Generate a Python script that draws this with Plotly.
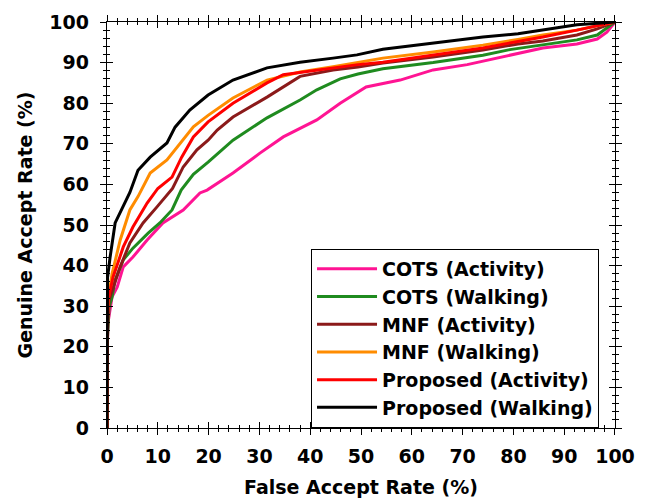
import plotly.graph_objects as go

series_names = ["COTS (Activity)", "COTS (Walking)", "MNF (Activity)",
                "MNF (Walking)", "Proposed (Activity)", "Proposed (Walking)"]
series_colors = ["#ff1493", "#1f8b1f", "#8b1a1a", "#ff8c00", "#ff0000", "#000000"]

cots_act_x = [0, 0, 0.2, 1, 2, 3.2, 5.1, 7.9, 11, 15, 18.3, 19.7, 24.8, 30.1, 34.7, 38, 41.3, 45.9, 47.8, 51, 57.7, 64.2, 70.9, 80.9, 85.8, 92.5, 96.5, 98.4, 100]
cots_act_y = [0, 17.5, 26, 32.3, 34.7, 39.7, 42.1, 46.3, 50.5, 53.7, 57.9, 58.6, 62.8, 67.7, 71.7, 73.9, 75.9, 80, 81.5, 84, 85.7, 88.2, 89.5, 92.3, 93.6, 94.6, 95.8, 97.5, 100]

cots_walk_x = [0, 0, 0.4, 1, 1.6, 3.2, 5.1, 8.1, 10.4, 12.8, 14.6, 17, 19.9, 24.8, 31.5, 38, 41.3, 45.9, 49.4, 54.3, 64.2, 74, 79.3, 85.8, 92.5, 96.5, 100]
cots_walk_y = [0, 20, 29.8, 32.3, 36.5, 41.4, 44.3, 48, 50.5, 53.7, 58.6, 62.5, 65.5, 70.9, 76.4, 80.8, 83.3, 86, 87.2, 88.5, 90, 91.8, 93.2, 94.4, 95.6, 96.8, 100]

mnf_act_x = [0, 0, 0.4, 1.2, 2.6, 4.5, 7.1, 9.8, 12.9, 15, 17.7, 19.9, 21.7, 24.8, 31.5, 38, 44.5, 49.4, 54.3, 64.2, 74, 80.9, 85.8, 92.5, 96.5, 100]
mnf_act_y = [0, 22, 31.5, 34.7, 39.7, 45.6, 50.5, 54.4, 59, 64.3, 68.5, 70.9, 73.4, 76.6, 81.5, 86.6, 88.2, 88.9, 89.9, 91.4, 93.1, 94.6, 95.3, 96.8, 98.3, 100]

mnf_walk_x = [0, 0, 0.2, 1, 2.6, 4.5, 6.1, 8.5, 11.8, 15, 17, 19.9, 24.8, 31.5, 38, 44.5, 49.4, 54.3, 64.2, 74, 80.9, 85.8, 92.5, 100]
mnf_walk_y = [0, 24, 31.5, 38, 46.3, 53.7, 57, 62.8, 66, 71, 74.2, 77, 81.3, 85.7, 87.7, 89, 90.1, 91.1, 92.6, 94.3, 95.7, 96.8, 98, 100]

prop_act_x = [0, 0, 0.2, 1.2, 3.2, 5.1, 7.9, 10, 12.8, 14.7, 17, 19.9, 24.8, 31.5, 34.7, 41.3, 49.4, 54.3, 64.2, 74, 80.9, 85.8, 92.5, 100]
prop_act_y = [0, 24, 31.5, 37.2, 44.6, 49.5, 55.4, 59, 61.8, 66.7, 71.7, 75.4, 80, 85, 87, 88.2, 89.5, 90.1, 91.8, 93.6, 95.2, 96.3, 98, 100]

prop_walk_x = [0, 0, 0.1, 0.6, 1.6, 4.5, 6.1, 8.5, 11.8, 13.4, 16.3, 19.9, 24.8, 31.5, 38, 44.5, 49.2, 54.3, 64.2, 74, 80.9, 85.8, 92.5, 100]
prop_walk_y = [0, 26, 37, 42, 50.5, 58, 63.5, 66.7, 70.2, 74.1, 78.3, 82, 85.7, 88.7, 90.1, 91.1, 91.9, 93.3, 94.8, 96.3, 97.1, 98, 99.3, 100]

xs = [cots_act_x, cots_walk_x, mnf_act_x, mnf_walk_x, prop_act_x, prop_walk_x]
ys = [cots_act_y, cots_walk_y, mnf_act_y, mnf_walk_y, prop_act_y, prop_walk_y]

tick_vals = list(range(0, 101, 10))
tick_text = [str(v) for v in tick_vals]

FONT = "DejaVu Sans, sans-serif"
X_DOMAIN = [0.0847, 1.0]

fig = go.Figure()
for name, color, x, y in zip(series_names, series_colors, xs, ys):
    fig.add_trace(go.Scatter(x=x, y=y, mode="lines", name=name,
                             line=dict(color=color, width=3)))

# invisible traces to activate overlay axes (crossing ticks / label axis)
fig.add_trace(go.Scatter(x=[0, 100], y=[0, 100], xaxis="x2", yaxis="y2",
                         mode="lines", line=dict(width=0), showlegend=False,
                         hoverinfo="skip"))
fig.add_trace(go.Scatter(x=[0, 100], y=[0, 100], xaxis="x", yaxis="y3",
                         mode="lines", line=dict(width=0), showlegend=False,
                         hoverinfo="skip"))

axis_common = dict(range=[0, 100], showgrid=False, zeroline=False,
                   showline=True, linecolor="black", linewidth=1,
                   tickcolor="black", tickwidth=1, automargin=False)

fig.update_layout(
    width=646, height=502,
    margin=dict(l=60, r=31, t=22, b=74),
    paper_bgcolor="white", plot_bgcolor="white",
    font=dict(family=FONT, color="black"),
    xaxis=dict(**axis_common, domain=X_DOMAIN, tickvals=tick_vals, ticktext=tick_text,
               ticks="outside", ticklen=6, mirror="ticks", ticklabelstandoff=5,
               minor=dict(dtick=2, ticks="outside", ticklen=3, tickcolor="black"),
               tickfont=dict(size=19, weight="bold", family=FONT),
               title=dict(text="False Accept Rate (%)",
                          font=dict(size=19, weight="bold", family=FONT), standoff=14)),
    yaxis=dict(**axis_common, tickvals=tick_vals, showticklabels=False,
               ticks="outside", ticklen=6, mirror="ticks",
               minor=dict(dtick=2, ticks="outside", ticklen=3, tickcolor="black")),
    yaxis3=dict(range=[0, 100], overlaying="y", anchor="free", position=0.0523,
                side="left", showgrid=False, zeroline=False, showline=False,
                ticks="", tickvals=tick_vals, ticktext=tick_text, automargin=False,
                tickfont=dict(size=19, weight="bold", family=FONT),
                title=dict(text="Genuine Accept Rate (%)",
                           font=dict(size=19, weight="bold", family=FONT), standoff=10)),
    xaxis2=dict(range=[0, 100], overlaying="x", domain=X_DOMAIN, showgrid=False,
                zeroline=False, showticklabels=False, tickvals=tick_vals,
                ticks="inside", ticklen=6, mirror="ticks", tickcolor="black",
                showline=False, automargin=False,
                minor=dict(dtick=2, ticks="inside", ticklen=3, tickcolor="black")),
    yaxis2=dict(range=[0, 100], overlaying="y", showgrid=False, zeroline=False,
                showticklabels=False, tickvals=tick_vals, ticks="inside", ticklen=6,
                mirror="ticks", tickcolor="black", showline=False, automargin=False,
                minor=dict(dtick=2, ticks="inside", ticklen=3, tickcolor="black")),
    legend=dict(x=0.4523, y=0, xanchor="left", yanchor="bottom",
                bgcolor="white", bordercolor="black", borderwidth=1,
                font=dict(size=19, weight="bold", family=FONT),
                itemwidth=60, tracegroupgap=0),
    showlegend=True,
)

fig.write_html("out.html")
